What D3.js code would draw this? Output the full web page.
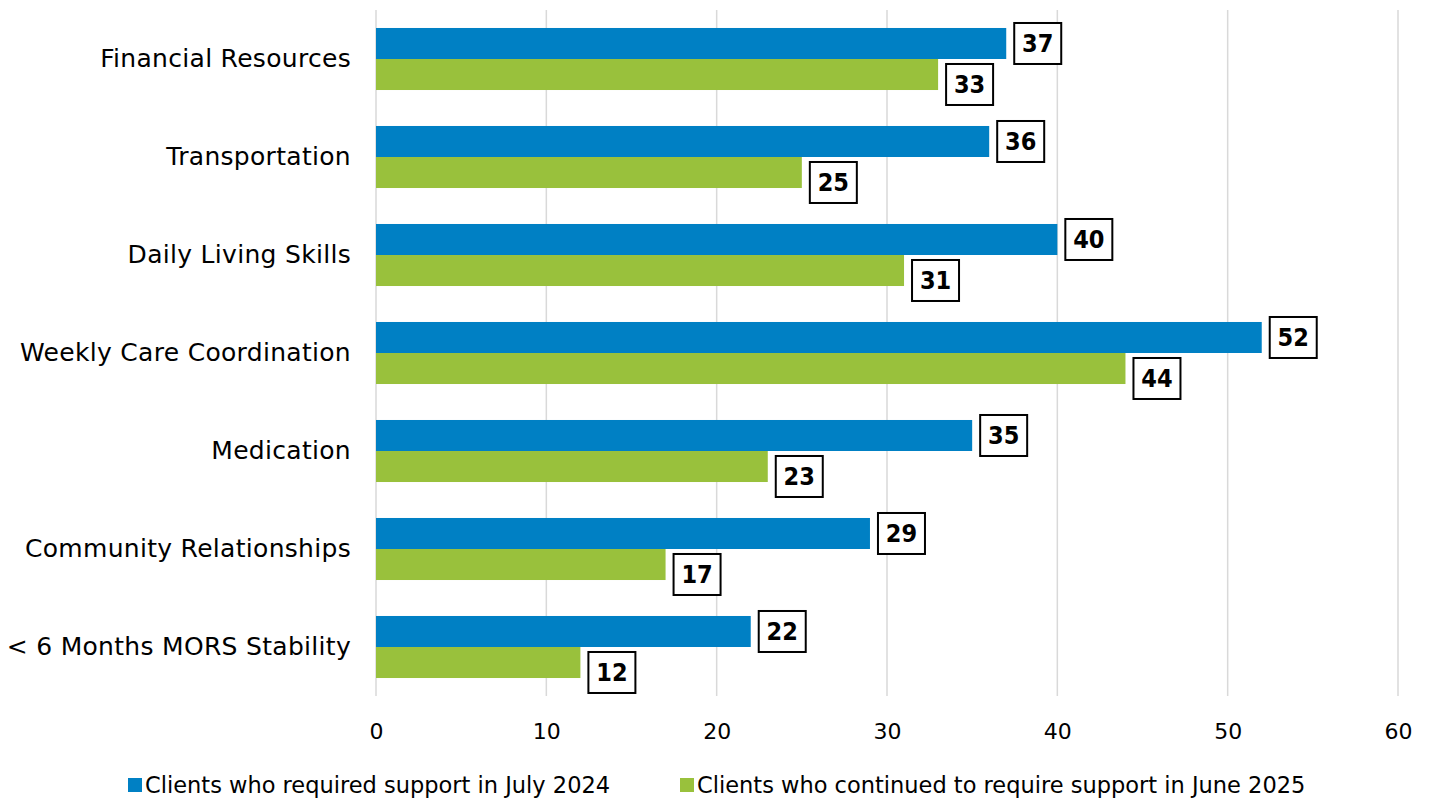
<!DOCTYPE html>
<html>
<head>
<meta charset="utf-8">
<script src="https://cdn.jsdelivr.net/npm/d3@7"></script>
<style>
  body { margin: 0; background: #fff; }
  svg text { font-family: "DejaVu Sans", sans-serif; }
</style>
</head>
<body>
<div id="chart"></div>
<script>
// chart data
var categories = ['Financial Resources', 'Transportation', 'Daily Living Skills', 'Weekly Care Coordination',
  'Medication', 'Community Relationships', '< 6 Months MORS Stability'];
var july2024 = [37, 36, 40, 52, 35, 29, 22];
var june2025 = [33, 25, 31, 44, 23, 17, 12];
var seriesNames = ['Clients who required support in July 2024', 'Clients who continued to require support in June 2025'];
var xTicks = [0, 10, 20, 30, 40, 50, 60];

var width = 1430, height = 798;
var BLUE = '#0080c4';
var GREEN = '#99c13c';
var GRID = '#d9d9d9';
var BOX_W = 47, BOX_H = 41;

var svg = d3.select('#chart').append('svg')
  .attr('width', width)
  .attr('height', height);

var x = d3.scaleLinear().domain([0, 60]).range([376, 1398]);
var y = d3.scaleBand().domain(categories).range([10, 696])
  .paddingInner(0.367).paddingOuter(0.1835);
var sub = d3.scaleBand().domain([0, 1]).range([0, y.bandwidth()]);

// gridlines
svg.append('g')
  .selectAll('line')
  .data(xTicks)
  .enter()
  .append('line')
  .attr('x1', function(d) { return x(d); })
  .attr('x2', function(d) { return x(d); })
  .attr('y1', 10)
  .attr('y2', 696)
  .attr('stroke', GRID)
  .attr('stroke-width', 1.5);

// x axis labels
var xAxis = d3.axisBottom(x).tickValues(xTicks).tickSize(0).tickPadding(0);
svg.append('g')
  .attr('transform', 'translate(0,723)')
  .call(xAxis)
  .call(function(g) { g.select('.domain').remove(); })
  .selectAll('text')
  .attr('font-size', '22px')
  .attr('fill', '#000');

// category labels
var yAxis = d3.axisLeft(y).tickSize(0).tickPadding(25);
svg.append('g')
  .attr('transform', 'translate(376,0)')
  .call(yAxis)
  .call(function(g) { g.select('.domain').remove(); })
  .selectAll('text')
  .attr('font-size', '25px')
  .attr('letter-spacing', '0.3px')
  .attr('fill', '#000');

var series = [july2024, june2025];
var colors = [BLUE, GREEN];

series.forEach(function(values, s) {
  svg.append('g')
    .selectAll('rect')
    .data(values)
    .enter()
    .append('rect')
    .attr('x', x(0))
    .attr('y', function(d, i) { return y(categories[i]) + sub(s); })
    .attr('width', function(d) { return x(d) - x(0); })
    .attr('height', sub.bandwidth())
    .attr('fill', colors[s]);
});

// data labels: blue centred on bar, green pushed below the blue box
function labelCenter(s, i) {
  var c = y(categories[i]) + sub(s) + sub.bandwidth() / 2;
  if (s === 1) {
    var blueBottom = y(categories[i]) + sub(0) + sub.bandwidth() / 2 + BOX_H / 2;
    c = Math.max(c, blueBottom + BOX_H / 2);
  }
  return c;
}

series.forEach(function(values, s) {
  var g = svg.append('g')
    .selectAll('g')
    .data(values)
    .enter()
    .append('g')
    .attr('transform', function(d, i) { return 'translate(' + (x(d) + 8) + ',' + labelCenter(s, i) + ')'; });

  g.append('rect')
    .attr('x', 0)
    .attr('y', -BOX_H / 2)
    .attr('width', BOX_W)
    .attr('height', BOX_H)
    .attr('fill', '#fff')
    .attr('stroke', '#000')
    .attr('stroke-width', 2);

  g.append('text')
    .attr('x', BOX_W / 2)
    .attr('y', 0)
    .attr('dy', '0.36em')
    .attr('text-anchor', 'middle')
    .style('font-family', '"DejaVu Sans Condensed", "DejaVu Sans", sans-serif')
    .attr('font-size', '25px')
    .attr('font-weight', 'bold')
    .text(function(d) { return d; });
});

// legend
var legendX = [128, 680];
var legend = svg.append('g')
  .selectAll('g')
  .data(seriesNames)
  .enter()
  .append('g')
  .attr('transform', function(d, i) { return 'translate(' + legendX[i] + ',778)'; });

legend.append('rect')
  .attr('width', 14)
  .attr('height', 14)
  .attr('fill', function(d, i) { return colors[i]; });

legend.append('text')
  .attr('x', 17)
  .attr('y', 7)
  .attr('dy', '0.36em')
  .attr('font-size', '22.5px')
  .text(function(d) { return d; });
</script>
</body>
</html>
